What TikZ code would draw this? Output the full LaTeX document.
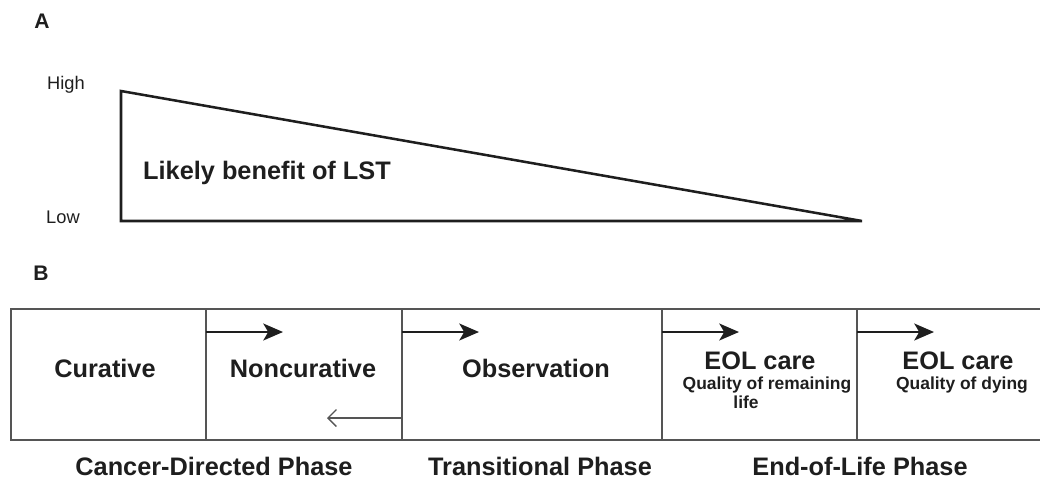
\documentclass[tikz,border=0pt]{standalone}
\usepackage{fontspec}
\setmainfont{Liberation Sans}
\usepackage{tikz}
\usetikzlibrary{arrows.meta}
\definecolor{boxgray}{RGB}{85,85,85}
\definecolor{inkdark}{RGB}{30,30,30}

\tikzset{
    bigtext/.style={font=\bfseries\fontsize{18}{20}\selectfont, text=inkdark},
    subtext/.style={font=\bfseries\fontsize{12.4}{14}\selectfont, text=inkdark},
    axistext/.style={font=\fontsize{13}{15}\selectfont, text=inkdark},
    paneltext/.style={font=\bfseries\fontsize{15}{17}\selectfont, text=inkdark},
    boxline/.style={draw=boxgray, line width=1.4pt},
    goarrow/.style={draw=inkdark, line width=1.7pt, -{Stealth[length=14pt,width=12pt,inset=3.5pt]}},
    backarrow/.style={draw=boxgray, line width=0.9pt, -{Straight Barb[length=6pt,width=12pt]}}
}

\begin{document}
\begin{tikzpicture}[x=0.025cm, y=-0.025cm]
                    \useasboundingbox (0,0) rectangle (1040,480);

                    % panel A
                    \node[paneltext] (pa) at (42,21) {A};
                    \node[axistext] (high) at (66,85) {High};
                    \node[axistext] (low) at (63,217) {Low};

                    \coordinate (tritop) at (121,91);
                    \coordinate (tribot) at (121,221);
                    \coordinate (tritip) at (862,221);
                    \draw[line width=1.8pt, draw=inkdark, line join=miter] (tritop) -- (tribot) -- (tritip) -- cycle;
                    \node[bigtext] (benefit) at (267,173) {Likely benefit of LST};

                    % panel B
                    \node[paneltext] (pb) at (41,273) {B};
                    \draw[boxline] (11,309) rectangle (1050,440);

                    \foreach \x in {206,402,662,857}
                        \draw[boxline] (\x,309) -- (\x,440);

                    \foreach \x [count=\i] in {206,402,662,857} {
                        \coordinate (go\i) at (\x,332);
                        \coordinate (to\i) at (\x+77,332);
                        \draw[goarrow] (go\i) -- (to\i);
                    }

                    \coordinate (backs) at (402,418);
                    \coordinate (backt) at (327,418);
                    \draw[backarrow] (backs) -- (backt);

                    \node[bigtext] (cur) at (105,368) {Curative};
                    \node[bigtext] (noncur) at (303,368) {Noncurative};
                    \node[bigtext] (obs) at (536,368) {Observation};
                    \node[bigtext] (eolA) at (760,361) {EOL care};
                    \node[subtext] (qualA) at (767,385) {Quality of remaining};
                    \node[subtext] (lifeA) at (746,402) {life};
                    \node[bigtext] (eolB) at (958,361) {EOL care};
                    \node[subtext] (qualB) at (962,385) {Quality of dying};

                    \node[bigtext] (cdp) at (214,466) {Cancer-Directed Phase};
                    \node[bigtext] (trp) at (540,466) {Transitional Phase};
                    \node[bigtext] (eolp) at (860,466) {End-of-Life Phase};
                \end{tikzpicture}
\end{document}
